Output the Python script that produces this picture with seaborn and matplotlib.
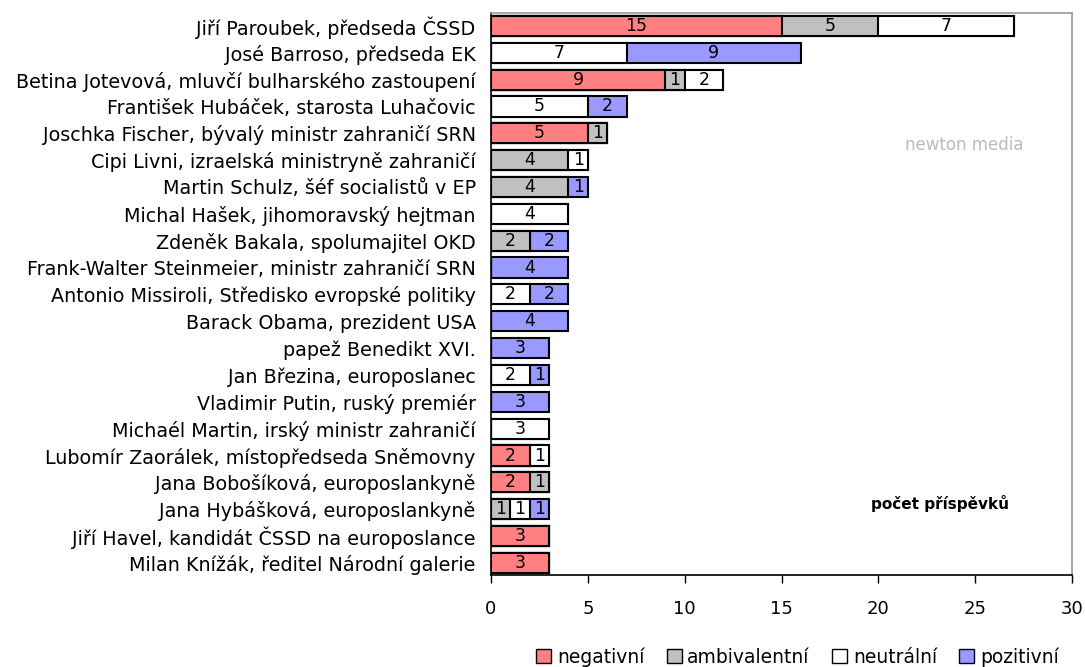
import matplotlib
matplotlib.use("Agg")
import matplotlib.pyplot as plt
import seaborn as sns
import pandas as pd
import numpy as np
from matplotlib.patches import Patch

names = [
    "Jiří Paroubek, předseda ČSSD",
    "José Barroso, předseda EK",
    "Betina Jotevová, mluvčí bulharského zastoupení",
    "František Hubáček, starosta Luhačovic",
    "Joschka Fischer, bývalý ministr zahraničí SRN",
    "Cipi Livni, izraelská ministryně zahraničí",
    "Martin Schulz, šéf socialistů v EP",
    "Michal Hašek, jihomoravský hejtman",
    "Zdeněk Bakala, spolumajitel OKD",
    "Frank-Walter Steinmeier, ministr zahraničí SRN",
    "Antonio Missiroli, Středisko evropské politiky",
    "Barack Obama, prezident USA",
    "papež Benedikt XVI.",
    "Jan Březina, europoslanec",
    "Vladimir Putin, ruský premiér",
    "Michaél Martin, irský ministr zahraničí",
    "Lubomír Zaorálek, místopředseda Sněmovny",
    "Jana Bobošíková, europoslankyně",
    "Jana Hybášková, europoslankyně",
    "Jiří Havel, kandidát ČSSD na europoslance",
    "Milan Knížák, ředitel Národní galerie",
]
negativni    = [15, 0, 9, 0, 5, 0, 0, 0, 0, 0, 0, 0, 0, 0, 0, 0, 2, 2, 0, 3, 3]
ambivalentni = [5, 0, 1, 0, 1, 4, 4, 0, 2, 0, 0, 0, 0, 0, 0, 0, 0, 1, 1, 0, 0]
neutralni    = [7, 7, 2, 5, 0, 1, 0, 4, 0, 0, 2, 0, 0, 2, 0, 3, 1, 0, 1, 0, 0]
pozitivni    = [0, 9, 0, 2, 0, 0, 1, 0, 2, 4, 2, 4, 3, 1, 3, 0, 0, 0, 1, 0, 0]

series_labels = ["negativní", "ambivalentní", "neutrální", "pozitivní"]
series_values = [negativni, ambivalentni, neutralni, pozitivni]
colors = ["#FF8080", "#C0C0C0", "#FFFFFF", "#9999FF"]

sns.set_theme(style="white")
plt.rcParams["font.family"] = ["DejaVu Sans"]
plt.rcParams["text.color"] = "black"
plt.rcParams["xtick.color"] = "black"
plt.rcParams["ytick.color"] = "black"
plt.rcParams["axes.labelcolor"] = "black"

fig = plt.figure(figsize=(10.85, 6.67), dpi=100)
ax = fig.add_axes([491 / 1085, 1 - 575 / 667, (1072 - 491) / 1085, (575 - 13) / 667])

vals = np.array(series_values, dtype=float)
cum = np.cumsum(vals, axis=0)

# draw cumulative bars from the outermost to the innermost
for i in range(len(series_labels) - 1, -1, -1):
    df = pd.DataFrame({"name": names, "value": cum[i]})
    sns.barplot(data=df, x="value", y="name", orient="h", color=colors[i],
                saturation=1, edgecolor="black", linewidth=1.5, width=0.75,
                errorbar=None, ax=ax, order=names)

# value labels
for i in range(len(series_labels)):
    for r in range(len(names)):
        v = vals[i, r]
        if v > 0:
            ax.text(cum[i, r] - v / 2, r, f"{int(v)}", ha="center", va="center",
                    fontsize=12.5, color="black")

ax.set_xlim(0, 30)
ax.set_ylim(len(names) - 0.55, -0.48)
ax.set_xticks(range(0, 31, 5))
ax.set_xlabel("")
ax.set_ylabel("")
ax.tick_params(axis="x", direction="out", length=6, width=1, color="black",
               labelsize=13, pad=12, bottom=True, labelcolor="black")
ax.tick_params(axis="y", length=0, labelsize=13.8, pad=11, labelcolor="black")

for s in ["left", "bottom"]:
    ax.spines[s].set_color("black")
    ax.spines[s].set_linewidth(1.2)
for s in ["top", "right"]:
    ax.spines[s].set_color("#999999")
    ax.spines[s].set_linewidth(1.2)

ax.text(0.773, 0.128, "počet příspěvků", transform=ax.transAxes, ha="center",
        va="center", fontsize=11, fontweight="bold")
ax.text(0.815, 0.765, "newton media", transform=ax.transAxes, ha="center",
        va="center", fontsize=12, color="#BBBBBB")

handles = [Patch(facecolor=c, edgecolor="black", linewidth=1) for c in colors]
fig.legend(handles, series_labels, loc="center", bbox_to_anchor=(0.735, 0.015),
           ncol=4, frameon=False, fontsize=13.5, handlelength=0.8, handleheight=0.8,
           handletextpad=0.3, columnspacing=1.2, labelcolor="black")

fig.savefig("out.png", dpi=100)
